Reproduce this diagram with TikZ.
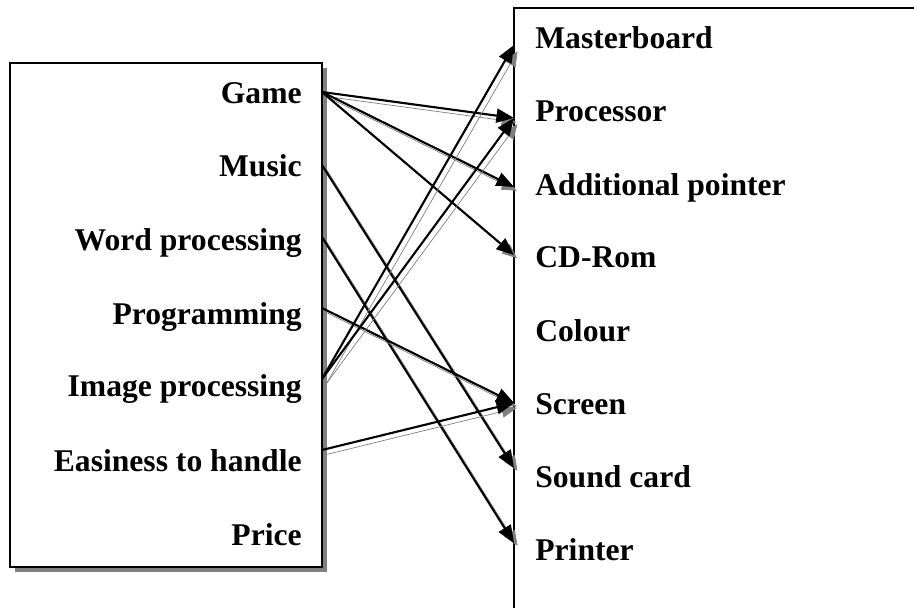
\documentclass[tikz,border=0pt]{standalone}
\usepackage{fontspec}
\setmainfont{Liberation Serif}
\usetikzlibrary{arrows.meta}

\begin{document}
\begin{tikzpicture}[x=0.02cm,y=-0.02cm]
  \tikzset{
    item/.style={font=\bfseries\fontsize{18}{22}\selectfont, inner sep=0pt},
    link/.style={-{Triangle[length=10pt,width=8pt]}, line width=1.2pt,
      preaction={draw=gray, transform canvas={shift={(0.09cm,-0.09cm)}}}}
  }
  \useasboundingbox (0,0) rectangle (914,608);

  % left box and its shadow
  \fill[gray] (15,68) rectangle (327,572);
  \draw[line width=1.3pt, fill=white] (10,63) rectangle (322,567);
  % right box, cut by the page
  \draw[line width=1.3pt] (514,608) -- (514,8) -- (914,8);

  \foreach \name/\txt/\base/\out in {game/Game/104/92, music/Music/177/165,
      wordproc/Word processing/251/237, programming/Programming/324/308,
      imageproc/Image processing/397/379, easiness/Easiness to handle/471/450,
      price/Price/545/522} {
    \node[item, anchor=base east] (\name) at (302,\base) {\txt};
    \coordinate (\name-out) at (322,\out);
  }
  \foreach \name/\txt/\base/\tip in {masterboard/Masterboard/49/45,
      processor/Processor/122/118, pointer/Additional pointer/195/187,
      cdrom/CD-Rom/268/255, colour/Colour/341/330, screen/Screen/415/403,
      soundcard/Sound card/487/468, printer/Printer/560/543} {
    \node[item, anchor=base west] (\name) at (535,\base) {\txt};
    \coordinate (\name-in) at (514,\tip);
  }

  \draw[link] (game-out) -- (processor-in);
  \draw[link] (game-out) -- (pointer-in);
  \draw[link] (game-out) -- (cdrom-in);
  \draw[link] (music-out) -- (soundcard-in);
  \draw[link] (wordproc-out) -- (printer-in);
  \draw[link] (programming-out) -- (screen-in);
  \draw[link] (imageproc-out) -- (masterboard-in);
  \draw[link] (imageproc-out) -- (processor-in);
  \draw[link] (easiness-out) -- (screen-in);
\end{tikzpicture}
\end{document}
